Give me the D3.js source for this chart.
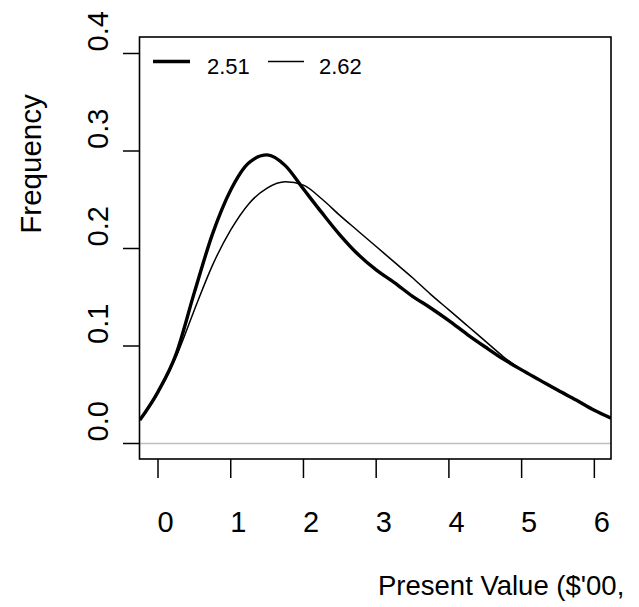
<!DOCTYPE html>
<html>
<head>
<meta charset="utf-8">
<script src="https://cdn.jsdelivr.net/npm/d3@7"></script>
<style>
  html, body { margin: 0; padding: 0; background: #fff; }
  svg { display: block; }
  text { font-family: "Liberation Sans", Arial, sans-serif; fill: #000; }
</style>
</head>
<body>
<svg id="chart" width="639" height="607"></svg>
<script>
// ---- data ----
const xValues = [-0.25, 0, 0.25, 0.5, 0.75, 1.0, 1.25, 1.5, 1.75, 2.0, 2.25, 2.5, 2.75, 3.0, 3.25, 3.5, 3.75, 4.0, 4.25, 4.5, 4.75, 5.0, 5.25, 5.5, 5.75, 6.0, 6.23];
const series251 = [0.024, 0.053, 0.092, 0.155, 0.215, 0.260, 0.288, 0.296, 0.285, 0.261, 0.237, 0.214, 0.194, 0.178, 0.165, 0.151, 0.139, 0.126, 0.112, 0.099, 0.0865, 0.0755, 0.065, 0.0545, 0.0445, 0.034, 0.026];
const series262 = [0.024, 0.052, 0.089, 0.137, 0.183, 0.219, 0.246, 0.262, 0.2685, 0.265, 0.251, 0.234, 0.218, 0.202, 0.186, 0.170, 0.153, 0.137, 0.121, 0.105, 0.089, 0.0755, 0.065, 0.0545, 0.0445, 0.034, 0.026];
const seriesNames = ["2.51", "2.62"];
const xTicks = [0, 1, 2, 3, 4, 5, 6];
const yTicks = [0.0, 0.1, 0.2, 0.3, 0.4];
const yTickLabels = ["0.0", "0.1", "0.2", "0.3", "0.4"];
const xTitle = "Present Value ($'00,";
const yTitle = "Frequency";

// ---- layout ----
const svg = d3.select("#chart");
const L = 139.5, R = 611, T = 37, B = 459;
const x = d3.scaleLinear().domain([-0.2545, 6.229]).range([L, R]);
const y = d3.scaleLinear().domain([-0.01590, 0.41692]).range([B, T]);

svg.append("rect").attr("width", 639).attr("height", 607).attr("fill", "#fff");

svg.append("clipPath").attr("id", "plotclip")
  .append("rect").attr("x", L).attr("y", T).attr("width", R - L).attr("height", B - T);

// zero reference line
svg.append("line")
  .attr("x1", L).attr("x2", R)
  .attr("y1", y(0)).attr("y2", y(0))
  .attr("stroke", "#bebebe").attr("stroke-width", 1.5);

// curves
const line = d3.line().x((d, i) => x(xValues[i])).y(d => y(d)).curve(d3.curveMonotoneX);
const g = svg.append("g").attr("clip-path", "url(#plotclip)");
g.append("path").datum(series262).attr("d", line)
  .attr("fill", "none").attr("stroke", "#000").attr("stroke-width", 1.5);
g.append("path").datum(series251).attr("d", line)
  .attr("fill", "none").attr("stroke", "#000").attr("stroke-width", 3.4);

// frame
svg.append("rect").attr("x", L).attr("y", T).attr("width", R - L).attr("height", B - T)
  .attr("fill", "none").attr("stroke", "#000").attr("stroke-width", 1.6);

// x axis
const xAxis = svg.append("g");
xAxis.selectAll("line").data(xTicks).join("line")
  .attr("x1", d => x(d)).attr("x2", d => x(d))
  .attr("y1", B).attr("y2", B + 19)
  .attr("stroke", "#000").attr("stroke-width", 1.5);
xAxis.selectAll("text").data(xTicks).join("text")
  .attr("x", d => x(d) - 0.5).attr("y", 532)
  .attr("text-anchor", "start")
  .attr("font-size", 29)
  .text(d => d);

// y axis
const yAxis = svg.append("g");
yAxis.selectAll("line").data(yTicks).join("line")
  .attr("x1", L - 16.5).attr("x2", L)
  .attr("y1", d => y(d)).attr("y2", d => y(d))
  .attr("stroke", "#000").attr("stroke-width", 1.5);
yAxis.selectAll("text").data(yTicks).join("text")
  .attr("transform", d => `translate(108,${y(d) - 2}) rotate(-90)`)
  .attr("text-anchor", "start")
  .attr("font-size", 29)
  .text((d, i) => yTickLabels[i]);

// titles
svg.append("text")
  .attr("transform", "translate(41,164) rotate(-90)")
  .attr("text-anchor", "middle")
  .attr("font-size", 29.5)
  .text(yTitle);
svg.append("text")
  .attr("x", 378).attr("y", 595)
  .attr("font-size", 27.5)
  .text(xTitle);

// legend
const leg = svg.append("g");
const legItems = [
  {name: seriesNames[0], x0: 153, x1: 190, tx: 207, w: 3.6},
  {name: seriesNames[1], x0: 268, x1: 304, tx: 319, w: 1.4}
];
legItems.forEach(it => {
  leg.append("line").attr("x1", it.x0).attr("x2", it.x1)
    .attr("y1", 61.5).attr("y2", 61.5)
    .attr("stroke", "#000").attr("stroke-width", it.w);
  leg.append("text").attr("x", it.tx).attr("y", 74)
    .attr("font-size", 22).text(it.name);
});
</script>
</body>
</html>
